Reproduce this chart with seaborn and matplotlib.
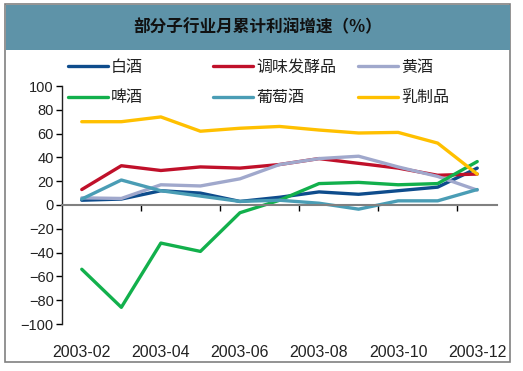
import matplotlib
matplotlib.use('Agg')
import matplotlib.pyplot as plt
import seaborn as sns
import pandas as pd
from matplotlib.patches import Rectangle

# 月份
months = ['2003-02', '2003-03', '2003-04', '2003-05', '2003-06', '2003-07',
          '2003-08', '2003-09', '2003-10', '2003-11', '2003-12']

# 各子行业月累计利润增速 (%)
baijiu = [4, 5, 12, 10, 3, 6.5, 11, 9, 12, 15, 31]
tiaowei = [13, 33, 29, 32, 31, 34, 39, 35, 31, 25, 26]
huangjiu = [6, 5.5, 17, 16, 22, 34, 39, 41, 32, 24, 12.5]
pijiu = [-54, -86, -32, -39, -6.5, 4, 18, 19, 17, 18, 36.5]
putao = [5, 21, 12, 7.5, 3, 4, 1.5, -3.5, 3.5, 3.5, 13]
ruzhipin = [70, 70, 74, 62, 64.5, 66, 63, 60.5, 61, 52, 26]

names = ['白酒', '调味发酵品', '黄酒', '啤酒', '葡萄酒', '乳制品']
colors = ['#0E4C8C', '#C0102A', '#A0A8CC', '#12B04C', '#4A9DB5', '#FFC000']
series = [baijiu, tiaowei, huangjiu, pijiu, putao, ruzhipin]

rows = []
for n, vals in zip(names, series):
    for i, v in enumerate(vals):
        rows.append({'idx': i, 'value': v, 'series': n})
df = pd.DataFrame(rows)

sns.set_theme(style='white')
plt.rcParams['font.family'] = ['Liberation Sans', 'Noto Sans CJK SC', 'DejaVu Sans']

fig = plt.figure(figsize=(5.23, 3.71), dpi=100)
fig.patch.set_facecolor('white')

# 外框和标题栏
fig.patches.append(Rectangle((5/523, 1-362/371), 505/523, 358/371, transform=fig.transFigure,
                             fill=False, edgecolor='#808080', lw=1.2))
fig.patches.append(Rectangle((6/523, 1-50/371), 504/523, 45/371, transform=fig.transFigure,
                             facecolor='#5E93A8', edgecolor='none'))
fig.text(258/523, 1-27/371, '部分子行业月累计利润增速（%）', ha='center', va='center',
         fontsize=12, fontweight='bold', color='#111111',
         family=['Noto Sans CJK SC', 'DejaVu Sans'])

ax = fig.add_axes([62/523, 1-324/371, 435/523, 238/371])
sns.lineplot(data=df, x='idx', y='value', hue='series', hue_order=names,
             palette=colors, linewidth=2.4, ax=ax, legend=False)

ax.set_xlim(-0.5, 10.5)
ax.set_ylim(-100, 100)
ax.set_yticks(range(-100, 101, 20))
ax.tick_params(axis='y', direction='out', length=4, width=1, color='black',
               labelsize=10.5, labelcolor='#222222', pad=2, left=True)
ax.set_xlabel('')
ax.set_ylabel('')

for s in ['top', 'right']:
    ax.spines[s].set_visible(False)
ax.spines['left'].set_color('#222222')
ax.spines['left'].set_linewidth(1)
ax.spines['bottom'].set_position(('data', 0))
ax.spines['bottom'].set_color('#808080')
ax.spines['bottom'].set_linewidth(1.5)
ax.set_xticks([1.5, 3.5, 5.5, 7.5, 9.5])
ax.set_xticklabels([])
ax.tick_params(axis='x', direction='out', length=4, width=1, color='black', bottom=True)

# 底部月份标签
sec = ax.secondary_xaxis('bottom')
sec.set_xticks(list(range(0, 11, 2)))
sec.set_xticklabels(months[::2])
sec.tick_params(length=0, labelsize=11.5, labelcolor='#222222', pad=15)
sec.spines['bottom'].set_visible(False)

# 图例 (三列)
lines = ax.get_lines()
col_x = [68, 213, 358]
for c in range(3):
    hs = [lines[c], lines[c + 3]]
    ls = [names[c], names[c + 3]]
    leg = fig.legend(hs, ls, loc='upper left', bbox_to_anchor=(col_x[c]/523, 1-60/371),
                     bbox_transform=fig.transFigure, frameon=False, fontsize=11.5,
                     handlelength=2.5, handletextpad=0.2, borderpad=0, borderaxespad=0,
                     labelspacing=0.95)
    for t in leg.get_texts():
        t.set_color('#222222')

fig.savefig('out.png', dpi=100)
